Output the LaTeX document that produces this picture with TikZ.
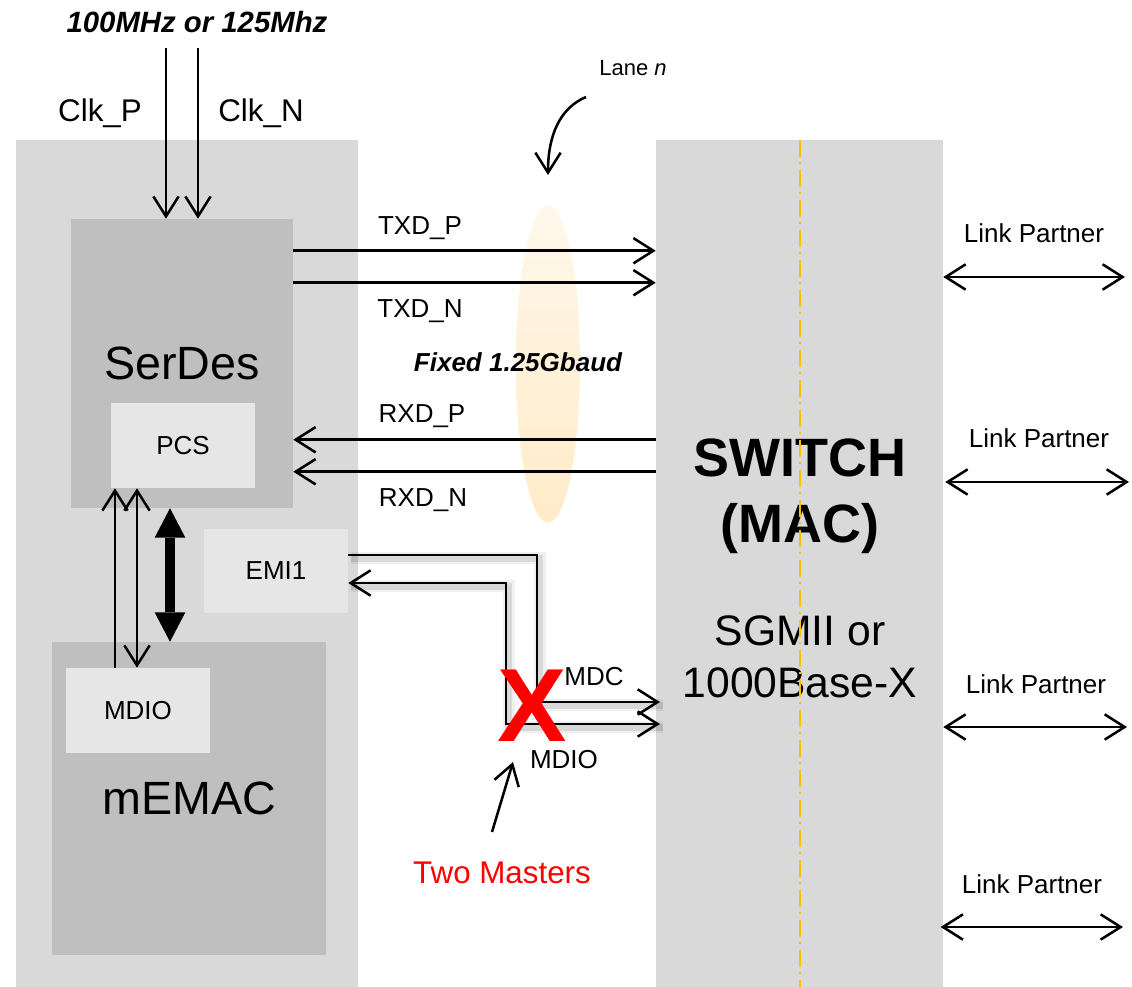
\documentclass[tikz,border=0pt]{standalone}
\usepackage{fontspec}
\setmainfont{Liberation Sans}
\usetikzlibrary{arrows.meta,calc}

\definecolor{chipgray}{HTML}{D9D9D9}
\definecolor{blockgray}{HTML}{BFBFBF}
\definecolor{subgray}{HTML}{E6E6E6}
\definecolor{lanefill}{HTML}{FFE2B0}
\definecolor{laneline}{HTML}{FFC000}
\definecolor{alertred}{HTML}{FF0000}

\newcommand{\pxu}{0.75pt}
\newcommand{\fsz}[2]{\fontsize{#1}{#2}\selectfont}

\tikzset{
  region/.style={fill=chipgray, inner sep=0pt},
  block/.style={fill=blockgray, inner sep=0pt, font=\fsz{35}{42}},
  subblock/.style={fill=subgray, inner sep=0pt, font=\fsz{19.5}{23}},
  sig/.style={line width=1.9pt},
  bus/.style={line width=7.5pt,
    {Triangle[length=22pt,width=23pt,line width=0pt]}-{Triangle[length=22pt,width=23pt,line width=0pt]}},
  shadowed/.style={
    preaction={draw=black, draw opacity=0.06, line width=9pt, arrows=-, transform canvas={shift={(2pt,-2.5pt)}}},
    preaction={draw=black, draw opacity=0.10, line width=5pt, arrows=-, transform canvas={shift={(2pt,-2.5pt)}}}},
  lbl/.style={inner sep=0pt, anchor=base, font=\fsz{19.5}{23}},
  bigtxt/.style={inner sep=0pt, anchor=base, font=\fsz{32}{38}},
}

\begin{document}
\begin{tikzpicture}[x=0.75pt, y=-0.75pt, >={Straight Barb[length=15pt,width=19pt]}]
  \useasboundingbox (0,0) rectangle (1132,987);

  % -- Chip side and switch side --
  \node[region, minimum width=342*\pxu, minimum height=847*\pxu] (chip) at (187,563.5) {};
  \node[region, minimum width=287*\pxu, minimum height=847*\pxu] (switch) at (799.5,563.5) {};

  % -- Lane glow --
  \shade[top color=lanefill!25, middle color=lanefill, bottom color=lanefill!70]
    (548,364) ellipse [x radius=24pt, y radius=119pt];

  % -- Blocks inside the chip --
  \node[block, minimum width=222*\pxu, minimum height=289*\pxu] (serdes) at (182,363.5) {SerDes};
  \node[subblock, minimum width=144*\pxu, minimum height=85*\pxu] (pcs) at (183,445.5) {PCS};
  \node[block, minimum width=274*\pxu, minimum height=313*\pxu] (memac) at (189,798.5) {mEMAC};
  \node[subblock, minimum width=144*\pxu, minimum height=85*\pxu] (mdio) at (138,710.5) {MDIO};
  \node[subblock, minimum width=144*\pxu, minimum height=84*\pxu] (emi) at (276,571) {EMI1};

  % -- Switch labels --
  \node[inner sep=0pt, anchor=base, font=\bfseries\fsz{40.5}{48}] (swname) at (800,477) {SWITCH};
  \node[inner sep=0pt, anchor=base, font=\bfseries\fsz{40.5}{48}] (swmac) at (800,542) {(MAC)};
  \node[bigtxt] (swmode) at (800,645) {SGMII or};
  \node[bigtxt] (swbase) at (800,697) {1000Base-X};
  \draw[draw=laneline, line width=1.5pt, dash pattern=on 13pt off 4pt on 1.5pt off 4pt]
    (switch.north) -- (switch.south);

  % -- Reference clock --
  \node[inner sep=0pt, font=\bfseries\itshape\fsz{22}{26}] (freq) at (197,22) {100MHz or 125Mhz};
  \node[lbl, font=\fsz{23.5}{28}] (clkplbl) at (100,122) {Clk\_P};
  \node[lbl, font=\fsz{23.5}{28}] (clknlbl) at (261,122) {Clk\_N};
  \coordinate (clkpin) at (166,48);
  \coordinate (clknin) at (198,48);
  \draw[sig, ->] (clkpin) -- (clkpin |- serdes.north);
  \draw[sig, ->] (clknin) -- (clknin |- serdes.north);

  % -- Serial lanes --
  \coordinate (txp) at ($(serdes.north east)+(0,32)$);
  \coordinate (txn) at ($(serdes.north east)+(0,64)$);
  \coordinate (rxp) at ($(serdes.north east)+(0,221)$);
  \coordinate (rxn) at ($(serdes.north east)+(0,253)$);
  \draw[sig, ->] (txp) -- (txp -| switch.west);
  \draw[sig, ->] (txn) -- (txn -| switch.west);
  \draw[sig, ->] (rxp -| switch.west) -- (rxp);
  \draw[sig, ->] (rxn -| switch.west) -- (rxn);
  \node[lbl] (txplbl) at (420,235) {TXD\_P};
  \node[lbl] (txnlbl) at (420,318) {TXD\_N};
  \node[lbl] (rxplbl) at (422,423) {RXD\_P};
  \node[lbl] (rxnlbl) at (423,507) {RXD\_N};
  \node[inner sep=0pt, font=\bfseries\itshape\fsz{19.5}{23}] (baud) at (518,362) {Fixed 1.25Gbaud};

  % -- Lane callout --
  \node[inner sep=0pt, font=\fsz{16.5}{20}] (lane) at (633,68) {Lane \textit{n}};
  \coordinate (lanefrom) at (586,97);
  \coordinate (lanetip) at (548,175);
  \draw[sig, ->] (lanefrom) .. controls (560,108) and (548,135) .. (lanetip);

  % -- Internal paths --
  \coordinate (busx) at (170,0);
  \draw[bus] (busx |- serdes.south) -- (busx |- memac.north);
  \coordinate (upx) at (115,0);
  \coordinate (dnx) at (137,0);
  \draw[sig, ->] (upx |- mdio.north) -- (upx |- pcs.south);
  \draw[sig, <->] (dnx |- pcs.south) -- (dnx |- mdio.north);

  % -- Management bus to the switch --
  \coordinate (mdcbend) at (537,555);
  \coordinate (mdcend) at (660,702);
  \coordinate (mdiobend) at (506,583);
  \coordinate (mdioend) at (660,724);
  \draw[sig, shadowed, ->] (emi.east |- mdcbend) -- (mdcbend) |- (mdcend);
  \draw[sig, shadowed, <->] (emi.east |- mdiobend) -- (mdiobend) |- (mdioend);
  \node[inner sep=0pt, anchor=base, text=alertred, font=\bfseries\fsz{78}{90}] (clash) at (532,741) {X};
  \node[lbl] (mdclbl) at (594,685) {MDC};
  \node[lbl] (mdiolbl) at (564,768) {MDIO};

  % -- Two masters note --
  \node[lbl, text=alertred, font=\fsz{23.5}{28}] (twomasters) at (502,883) {Two Masters};
  \coordinate (notefrom) at (492,832);
  \coordinate (noteto) at (513,762);
  \draw[sig, ->] (notefrom) -- (noteto);

  % -- Link partners --
  \node[lbl] (lp1) at (1034,243) {Link Partner};
  \node[lbl] (lp2) at (1039,448) {Link Partner};
  \node[lbl] (lp3) at (1036,693) {Link Partner};
  \node[lbl] (lp4) at (1032,893) {Link Partner};
  \coordinate (lp1end) at (1125,277);
  \coordinate (lp2end) at (1129,482);
  \coordinate (lp3end) at (1127,727);
  \coordinate (lp4end) at (1123,927);
  \draw[sig, <->] (lp1end -| switch.east) -- (lp1end);
  \draw[sig, <->] ([xshift=1.5pt]lp2end -| switch.east) -- (lp2end);
  \draw[sig, <->] (lp3end -| switch.east) -- (lp3end);
  \draw[sig, <->] ([xshift=-2pt]lp4end -| switch.east) -- (lp4end);

\end{tikzpicture}
\end{document}
